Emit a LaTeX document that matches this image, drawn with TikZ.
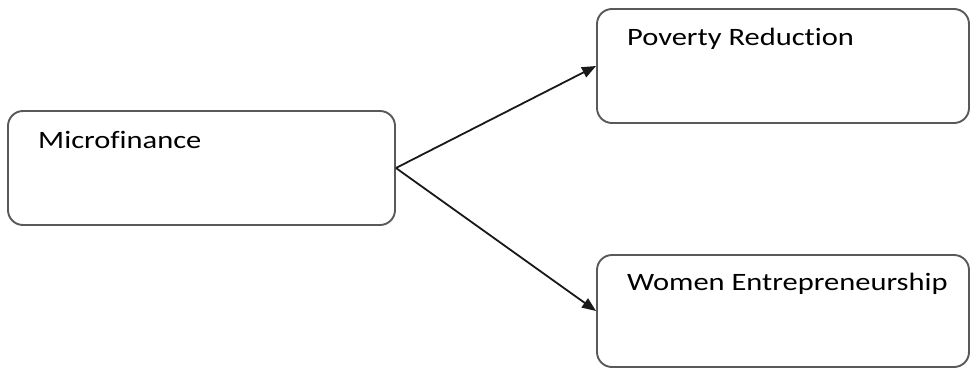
\documentclass[tikz,border=0pt]{standalone}
\usepackage{fontspec}
\setmainfont{Carlito}
\newfontfamily\boxfont[FakeStretch=1.22,Ligatures=NoCommon]{Carlito}
\usetikzlibrary{arrows.meta}
\begin{document}
\begin{tikzpicture}[x=1pt,y=-1pt,
  box/.style={draw=black!65,line width=1.9pt,rounded corners=15pt,fill=white,inner sep=0pt},
  lbl/.style={anchor=base west,inner sep=0pt,font=\boxfont\fontsize{25}{30}\selectfont,text=black},
  conn/.style={draw=black!90,line width=1.8pt,-{Triangle[length=14pt,width=11pt]}}]
\useasboundingbox (0,0) rectangle (973,367);
\fill[white] (0,0) rectangle (973,367);
\node[box,minimum width=387pt,minimum height=114pt] (mf) at (201.5,168) {};
\node[box,minimum width=372pt,minimum height=114pt] (pr) at (783,66) {};
\node[box,minimum width=372pt,minimum height=112pt] (we) at (783,311) {};
\node[lbl] (mft) at (38,148) {Microfinance};
\node[lbl] (prt) at (627,45) {Poverty Reduction};
\node[lbl] (wet) at (627,290) {Women Entrepreneurship};
\draw[conn] (mf.east) -- (pr.west);
\draw[conn] (mf.east) -- (we.west);
\end{tikzpicture}
\end{document}
